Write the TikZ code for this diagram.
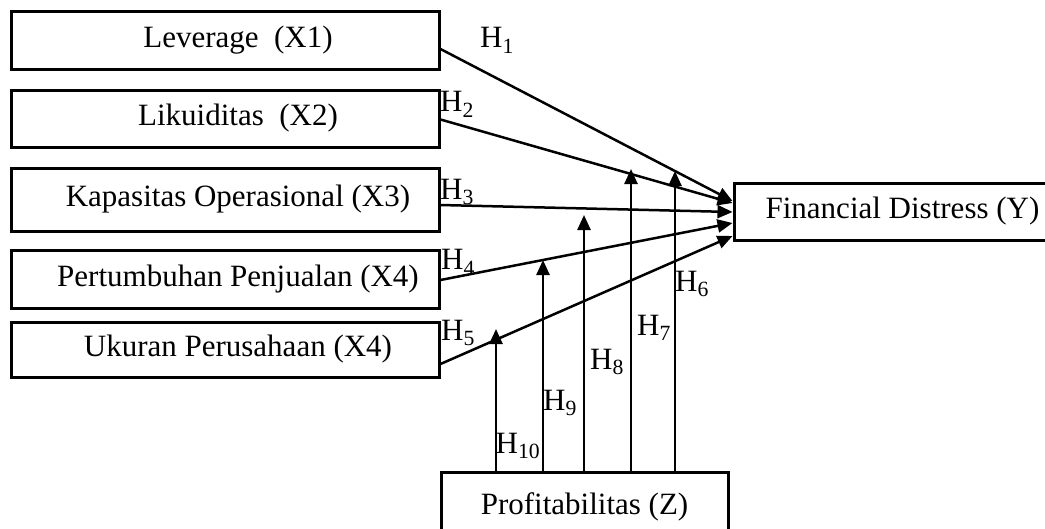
\documentclass[tikz,border=0pt]{standalone}
\usepackage{fontspec}
\setmainfont{Liberation Serif}
\usetikzlibrary{arrows.meta,calc}

\tikzstyle{every path} = [line width=2.5pt,black]
\tikzstyle{varbox} = [draw, line width=3pt, inner sep=0pt, font=\fontsize{31}{37}\selectfont]
\tikzstyle{leftbox} = [varbox, minimum width=428pt, execute at begin node={\hspace*{26pt}}]
\tikzstyle{hyp} = [inner sep=0pt, font=\fontsize{31}{37}\selectfont]
\tikzstyle{link} = [-{Triangle[length=15pt,width=13pt]}]

\begin{document}
\begin{tikzpicture}[x=1pt,y=-1pt]
    \useasboundingbox (0,0) rectangle (1045,528);

    % Independent variables
    \node[leftbox, minimum height=58pt] (x1) at (225,40) {Leverage\ \ (X1)};
    \node[leftbox, minimum height=57pt] (x2) at (225,118.5) {Likuiditas\ \ (X2)};
    \node[leftbox, minimum height=63pt] (x3) at (225,199.5) {Kapasitas Operasional (X3)};
    \node[leftbox, minimum height=58pt] (x4) at (225,279) {Pertumbuhan Penjualan (X4)};
    \node[leftbox, minimum height=55pt] (x5) at (225,349.5) {Ukuran Perusahaan (X4)};

    % Dependent and moderating variable
    \node[varbox, minimum width=337pt, minimum height=57pt] (fd) at (902.5,211.5) {Financial Distress (Y)};
    \node[varbox, minimum width=287pt, minimum height=70pt] (z) at (584.5,507) {Profitabilitas (Z)};

    % Direct effects
    \draw[link] ($(x1.east)+(0,9)$) -- ($(fd.west)+(0,-10.5)$);
    \draw[link] ($(x2.east)+(0,1)$) -- ($(fd.west)+(0,-8.5)$);
    \draw[link] ($(x3.east)+(0,5.5)$) -- ($(fd.west)+(0,0.5)$);
    \draw[link] ($(x4.east)+(0,1)$) -- ($(fd.west)+(0,11.5)$);
    \draw[link] ($(x5.east)+(0,14.5)$) -- ($(fd.west)+(0,24.5)$);

    % Moderating effects
    \foreach \n/\tx/\ty in {6/675/171, 7/631/169, 8/584/215, 9/543/260, 10/496/329} {
        \coordinate (t\n) at (\tx,\ty);
        \draw[link] (z.north -| t\n) -- (t\n);
    }

    % Hypothesis labels
    \node[hyp] (h1) at (497,40) {H\textsubscript{1}};
    \node[hyp] (h2) at (457,104) {H\textsubscript{2}};
    \node[hyp] (h3) at (457,192) {H\textsubscript{3}};
    \node[hyp] (h4) at (458,262) {H\textsubscript{4}};
    \node[hyp] (h5) at (458,333) {H\textsubscript{5}};
    \node[hyp] (h6) at (692,284) {H\textsubscript{6}};
    \node[hyp] (h7) at (654,328) {H\textsubscript{7}};
    \node[hyp] (h8) at (607,362) {H\textsubscript{8}};
    \node[hyp] (h9) at (560,403) {H\textsubscript{9}};
    \node[hyp] (h10) at (518,446) {H\textsubscript{10}};
\end{tikzpicture}
\end{document}
